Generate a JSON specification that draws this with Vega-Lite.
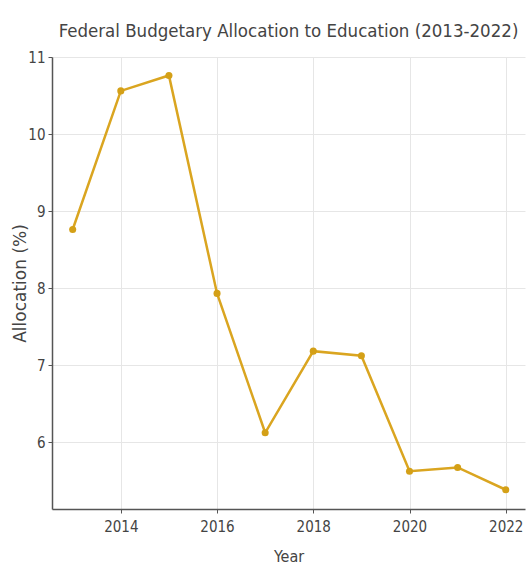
{
  "$schema": "https://vega.github.io/schema/vega-lite/v6.json",
  "width": 473,
  "height": 452,
  "autosize": {"type": "none"},
  "padding": {"left": 52, "top": 57, "right": 4, "bottom": 61},
  "background": "white",
  "title": {
    "text": "Federal Budgetary Allocation to Education (2013-2022)",
    "font": "DejaVu Sans Condensed",
    "fontSize": 18.5,
    "fontWeight": "normal",
    "color": "#444444",
    "anchor": "middle",
    "offset": 10
  },
  "config": {
    "view": {"stroke": null},
    "axis": {
      "labelFont": "DejaVu Sans Condensed",
      "labelFontSize": 15,
      "labelColor": "#444444",
      "titleFont": "DejaVu Sans Condensed",
      "titleFontSize": 16,
      "titleFontWeight": "normal",
      "titleColor": "#444444",
      "gridColor": "#e6e6e6",
      "gridWidth": 1,
      "domainColor": "#555555",
      "domainWidth": 1.5,
      "tickColor": "#555555",
      "tickSize": 4
    }
  },
  "data": {
    "values": [
      {"Year": 2013, "Allocation": 8.76},
      {"Year": 2014, "Allocation": 10.56},
      {"Year": 2015, "Allocation": 10.76},
      {"Year": 2016, "Allocation": 7.93},
      {"Year": 2017, "Allocation": 6.12},
      {"Year": 2018, "Allocation": 7.18},
      {"Year": 2019, "Allocation": 7.12},
      {"Year": 2020, "Allocation": 5.62},
      {"Year": 2021, "Allocation": 5.67},
      {"Year": 2022, "Allocation": 5.38}
    ]
  },
  "mark": {
    "type": "line",
    "color": "#DAA520",
    "strokeWidth": 2.5,
    "point": {"filled": true, "size": 50, "color": "#D4A017"}
  },
  "encoding": {
    "x": {
      "field": "Year",
      "type": "quantitative",
      "scale": {"domain": [2012.57, 2022.4], "nice": false, "zero": false},
      "axis": {
        "values": [2014, 2016, 2018, 2020, 2022],
        "format": "d",
        "title": "Year",
        "labelPadding": 6,
        "titlePadding": 14
      }
    },
    "y": {
      "field": "Allocation",
      "type": "quantitative",
      "scale": {"domain": [5.13, 11], "nice": false, "zero": false},
      "axis": {
        "values": [6, 7, 8, 9, 10, 11],
        "title": "Allocation (%)",
        "titleFont": "DejaVu Sans",
        "titleFontSize": 17,
        "titleX": -32,
        "titleY": 226,
        "titleAnchor": null,
        "titleAlign": "center",
        "titleBaseline": "middle",
        "titleAngle": -90,
        "labelPadding": 3
      }
    }
  }
}
